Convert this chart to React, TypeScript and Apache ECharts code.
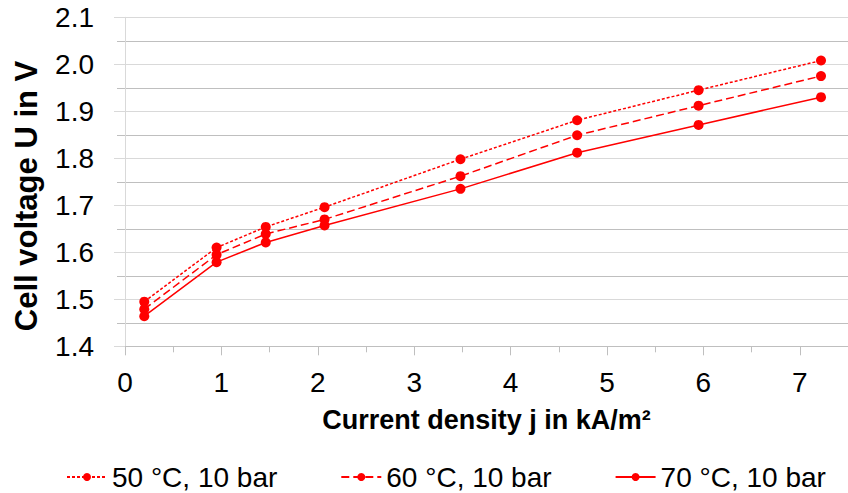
import React, { useEffect, useRef } from "react";
import * as echarts from "echarts";

const currentDensity = [0.2, 0.95, 1.46, 2.07, 3.48, 4.69, 5.95, 7.22];
const voltage50 = [1.495, 1.61, 1.654, 1.696, 1.798, 1.881, 1.945, 2.008];
const voltage60 = [1.479, 1.595, 1.639, 1.67, 1.762, 1.849, 1.912, 1.975];
const voltage70 = [1.464, 1.579, 1.621, 1.657, 1.735, 1.812, 1.871, 1.93];
const seriesNames = ["50 °C, 10 bar", "60 °C, 10 bar", "70 °C, 10 bar"];
const xTitle = "Current density j in kA/m²";
const yTitle = "Cell voltage U in V";

const FONT = "'Liberation Sans', Arial, sans-serif";
const RED = "#ff0000";

function pairs(ys: number[]) {
  return currentDensity.map((x, i) => [x, ys[i]]);
}

export default function App() {
  const ref = useRef<HTMLDivElement>(null);
  useEffect(() => {
    document.body.style.margin = "0";
    const chart = echarts.init(ref.current!, null, { renderer: "svg" });
    const mk = (name: string, ys: number[], type: any) => ({
      name,
      type: "line",
      data: pairs(ys),
      symbol: "circle",
      symbolSize: 10,
      itemStyle: { color: RED },
      lineStyle: { color: RED, width: 1.5, type },
    });
    chart.setOption({
      animation: false,
      backgroundColor: "#ffffff",
      textStyle: { fontFamily: FONT },
      grid: { left: 125, top: 17.3, width: 729, height: 329 },
      xAxis: {
        type: "value",
        min: 0,
        max: 7.5,
        interval: 1,
        name: xTitle,
        nameLocation: "middle",
        nameGap: 60,
        nameTextStyle: { fontFamily: FONT, fontSize: 27, fontWeight: "bold", color: "#000" },
        axisLine: { show: true, lineStyle: { color: "#bfbfbf", width: 1 } },
        axisTick: { show: true, length: 9, lineStyle: { color: "#bfbfbf" } },
        minorTick: { show: true, splitNumber: 2, length: 6, lineStyle: { color: "#bfbfbf" } },
        axisLabel: {
          fontFamily: FONT,
          fontSize: 28,
          color: "#000",
          margin: 22,
          showMaxLabel: false,
          formatter: (v: number) => (Number.isInteger(v) ? String(v) : ""),
        },
        splitLine: { show: false },
      },
      yAxis: {
        type: "value",
        min: 1.4,
        max: 2.1,
        interval: 0.1,
        axisLine: { show: true, lineStyle: { color: "#d9d9d9", width: 1 } },
        axisTick: { show: true, length: 11, lineStyle: { color: "#d9d9d9" } },
        minorTick: { show: true, splitNumber: 2, length: 8, lineStyle: { color: "#bfbfbf" } },
        axisLabel: {
          fontFamily: FONT,
          fontSize: 28,
          color: "#000",
          margin: 31,
          formatter: (v: number) => v.toFixed(1),
        },
        splitLine: { show: true, lineStyle: { color: "#d9d9d9", width: 1 } },
        minorSplitLine: { show: true, lineStyle: { color: "#bfbfbf", width: 1 } },
      },
      legend: {
        left: 61,
        top: 458,
        itemWidth: 40,
        itemHeight: 10,
        itemGap: 63,
        textStyle: { fontFamily: FONT, fontSize: 28, lineHeight: 28, color: "#000" },
        data: seriesNames,
      },
      graphic: [
        {
          type: "text",
          x: 26,
          y: 196,
          rotation: Math.PI / 2,
          style: {
            text: yTitle,
            fontFamily: FONT,
            fontSize: 31,
            fontWeight: "bold",
            fill: "#000",
            align: "center",
            verticalAlign: "middle",
          },
        },
      ],
      series: [
        mk(seriesNames[0], voltage50, [3, 2]),
        mk(seriesNames[1], voltage60, [8, 4]),
        mk(seriesNames[2], voltage70, "solid"),
      ],
    });
    return () => chart.dispose();
  }, []);
  return <div ref={ref} style={{ width: 848, height: 493 }} />;
}
